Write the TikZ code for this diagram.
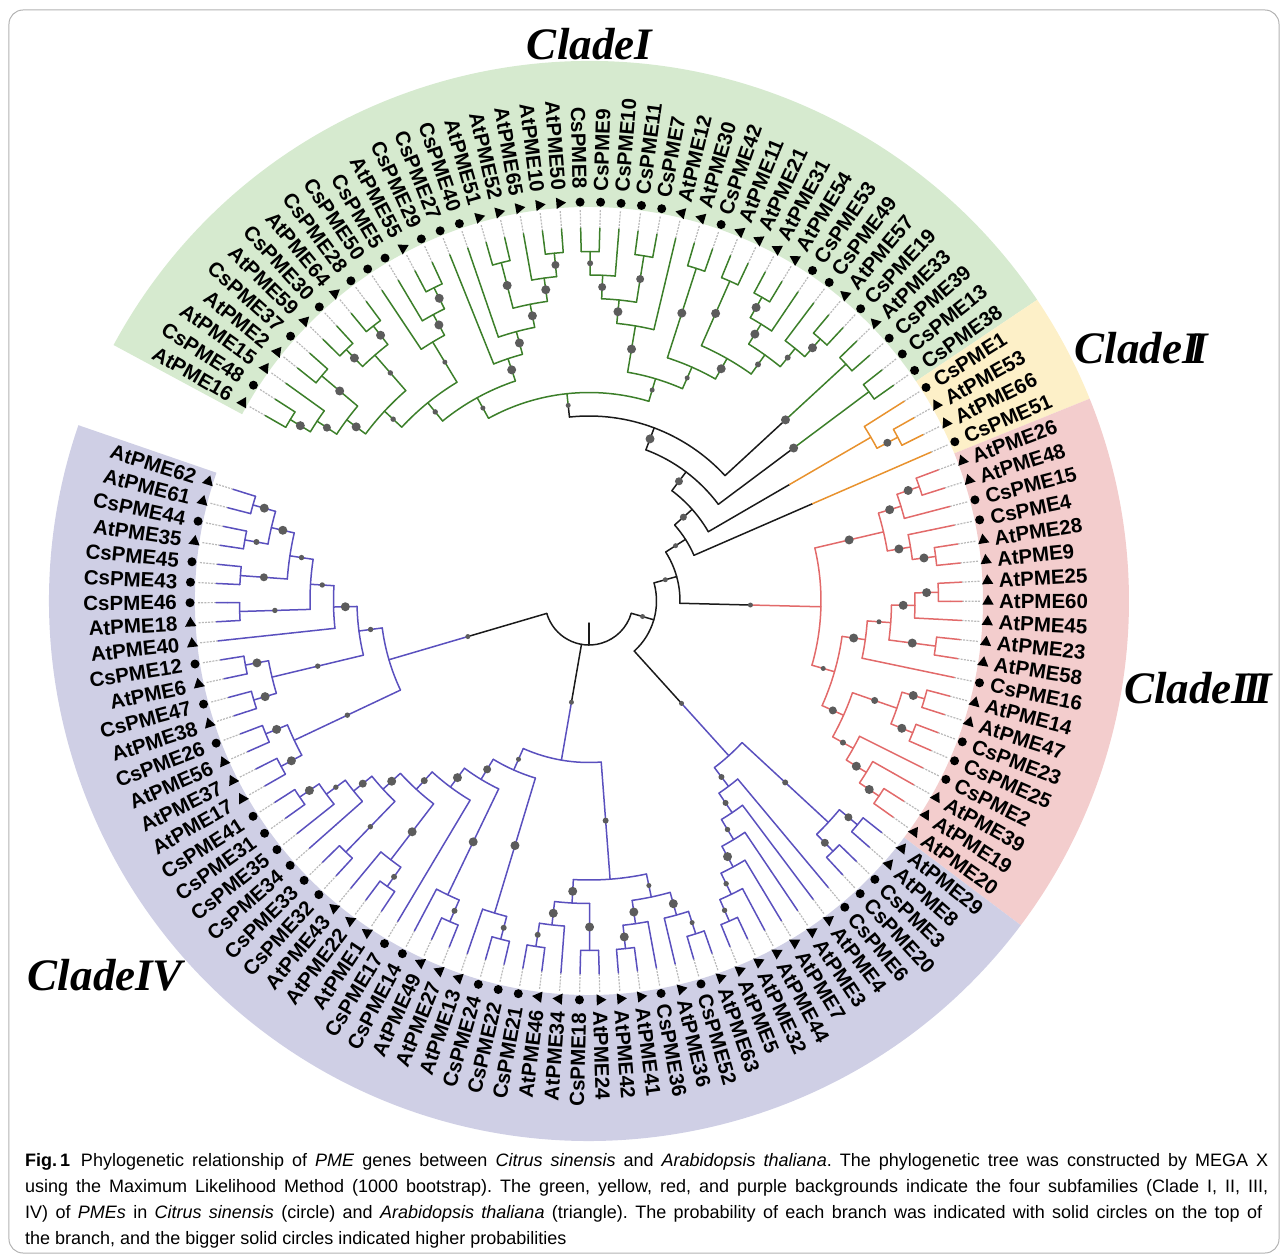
\documentclass[tikz,border=0pt]{standalone}
\usepackage{fontspec}
\setmainfont{Liberation Sans}
\newfontfamily\cladefont{Liberation Serif}
\usetikzlibrary{shapes.geometric}

\definecolor{clI}{HTML}{3C7F2A}
\definecolor{clII}{HTML}{E8922E}
\definecolor{clIII}{HTML}{E26A6A}
\definecolor{clIV}{HTML}{5A50BE}
\definecolor{clbk}{HTML}{1A1A1A}
\definecolor{bgI}{HTML}{D6EACF}
\definecolor{bgII}{HTML}{FDF0C8}
\definecolor{bgIII}{HTML}{F3CDCD}
\definecolor{bgIV}{HTML}{CFCFE5}
\definecolor{dotc}{HTML}{5C5C5C}

%% value store: \setv{ang}{name}{..}, \getv{ang}{name}
\newcommand\getv[2]{\csname #1@#2\endcsname}
\newcommand\setv[3]{\expandafter\xdef\csname #1@#2\endcsname{#3}}
\def\firstof#1#2\relax{#1}
\def\Rleaf{373}
\def\Rstep{23.5}

%% stem from parent #1 (radius #3) out to child #2, with its dot
\newcommand\drawstem[3]{%
  \edef\stA{\getv{ang}{#2}}%
  \pgfmathsetmacro\stR{\Rleaf-\Rstep*\getv{h}{#2}}%
  \pgfmathsetmacro\stM{(#3+\stR)/2}%
  \edef\stP{\getv{col}{#1}}\edef\stC{\getv{col}{#2}}\edef\stD{\getv{ds}{#2}}%
  \draw[branch,color=\stP] (\stA:#3) -- (\stA:\stM);
  \draw[branch,color=\stC] (\stA:\stM) -- (\stA:\stR);
  \ifdim\stD pt>0pt \fill[dotc] (\stA:\stM) circle[radius=\stD];\fi
}

\begin{document}
\frenchspacing
\begin{tikzpicture}[x=1pt,y=1pt,
  branch/.style={line width=1.5pt,line cap=round,line join=round},
  leafext/.style={gray!55,line width=1.2pt,dash pattern=on 2pt off 1.2pt},
  mktri/.style={regular polygon,regular polygon sides=3,fill=black,draw=none,inner sep=0pt,minimum size=13pt},
  mkcir/.style={circle,fill=black,draw=none,inner sep=0pt,minimum size=9pt},
  leaflab/.style={inner sep=0pt,font=\fontsize{20.5}{20.5}\selectfont\bfseries},
  cladelab/.style={anchor=base,inner sep=0pt,font=\cladefont\fontsize{45}{45}\selectfont\bfseries\itshape},
  caplab/.style={anchor=base west,inner sep=0pt,font=\fontsize{18}{21}\selectfont}]

\useasboundingbox (-589,-658) rectangle (696,601);
%% frame
\draw[gray!60,line width=1pt,rounded corners=14pt] (-580,591) rectangle (690,-652);

%% clade backgrounds
\foreach \ca/\cb/\cl in {33.9/151.7/bgI,22/33.9/bgII,-36.9/22/bgIII,-199/-36.9/bgIV}
  \fill[fill=\cl] (\ca:394) arc[start angle=\ca,end angle=\cb,radius=394]
    -- (\cb:540) arc[start angle=\cb,end angle=\ca,radius=540] -- cycle;

%% leaves, markers and labels
\foreach \nm [count=\i from 0] in {AtPME16,CsPME48,AtPME15,AtPME2,CsPME37,AtPME59,CsPME30,AtPME64,
  CsPME28,CsPME50,CsPME5,AtPME55,CsPME29,CsPME27,CsPME40,AtPME51,AtPME52,AtPME65,AtPME10,AtPME50,
  CsPME8,CsPME9,CsPME10,CsPME11,CsPME7,AtPME12,AtPME30,CsPME42,AtPME11,AtPME21,AtPME31,AtPME54,
  CsPME53,CsPME49,AtPME57,CsPME19,AtPME33,CsPME39,CsPME13,CsPME38,
  CsPME1,AtPME53,AtPME66,CsPME51,
  AtPME26,AtPME48,CsPME15,CsPME4,AtPME28,AtPME9,AtPME25,AtPME60,AtPME45,AtPME23,AtPME58,CsPME16,
  AtPME14,AtPME47,CsPME23,CsPME25,CsPME2,AtPME39,AtPME19,AtPME20,
  AtPME29,AtPME8,CsPME3,CsPME20,CsPME6,AtPME4,AtPME3,AtPME7,AtPME44,AtPME32,AtPME5,AtPME63,
  CsPME52,AtPME36,CsPME36,AtPME41,AtPME42,AtPME24,CsPME18,AtPME34,AtPME46,CsPME21,CsPME22,CsPME24,
  AtPME13,AtPME27,AtPME49,CsPME14,CsPME17,AtPME1,AtPME22,AtPME43,CsPME32,CsPME33,CsPME34,CsPME35,
  CsPME31,CsPME41,AtPME17,AtPME37,AtPME56,CsPME26,AtPME38,CsPME47,AtPME6,CsPME12,AtPME40,AtPME18,
  CsPME46,CsPME43,CsPME45,AtPME35,CsPME44,AtPME61,AtPME62}{
  \pgfmathsetmacro\lang{150.2-2.946*\i}
  \setv{ang}{\nm}{\lang}\setv{h}{\nm}{0}\setv{ds}{\nm}{0}
  \ifnum\i<40 \setv{col}{\nm}{clI}\else
   \ifnum\i<44 \setv{col}{\nm}{clII}\else
    \ifnum\i<64 \setv{col}{\nm}{clIII}\else \setv{col}{\nm}{clIV}\fi\fi\fi
  \draw[leafext] (\lang:\Rleaf) -- (\lang:391);
  \pgfmathparse{(\lang>-90)&&(\lang<90)?1:0}
  \ifdim\pgfmathresult pt>0.5pt \edef\lrot{\lang}\def\lanc{west}\def\lrad{410}%
  \else \pgfmathsetmacro\lrot{\lang+180}\def\lanc{east}\def\lrad{412}\fi
  \if A\expandafter\firstof\nm\relax
    \node[mktri,rotate=\lrot] (mk\i) at (\lang:399) {};
  \else
    \node[mkcir] (mk\i) at (\lang:399) {};
  \fi
  \node[leaflab,anchor=\lanc,rotate=\lrot] (lb\i) at (\lang:\lrad) {\nm};
}

%% tree: node/child/child/colour/dot radius
\foreach \nd/\ca/\cb/\cl/\ds in {
  I1/AtPME16/CsPME48/clI/4.5,I2/I1/AtPME15/clI/4,I3/AtPME2/CsPME37/clI/4.5,I4/I2/I3/clI/4.5,
  I5/AtPME59/CsPME30/clI/4.5,I6/AtPME64/CsPME28/clI/4.5,I7/I5/I6/clI/2.7,I8/I4/I7/clI/2.7,
  I9/AtPME55/CsPME29/clI/4.5,I10/CsPME5/I9/clI/4.5,I11/CsPME50/I10/clI/2.5,I12/I8/I11/clI/2.7,
  I13/AtPME51/AtPME52/clI/4.5,I14/AtPME10/AtPME50/clI/4,I15/AtPME65/I14/clI/4.5,I16/I13/I15/clI/4.5,
  I17/CsPME40/I16/clI/4.5,I18/CsPME27/I17/clI/4.5,I19/I12/I18/clI/2.5,
  I20/CsPME8/CsPME9/clI/3,I21/I20/CsPME10/clI/4,I22/CsPME11/CsPME7/clI/4,I23/I21/I22/clI/4.5,
  I24/I23/AtPME12/clI/4.5,I25/AtPME30/CsPME42/clI/4.5,I26/AtPME11/AtPME21/clI/4.5,
  I27/AtPME31/AtPME54/clI/4.5,I28/I27/CsPME53/clI/4.5,I29/AtPME57/CsPME19/clI/4.5,
  I30/I29/CsPME49/clI/3,I31/I28/I30/clI/3,I32/I26/I31/clI/4.5,I33/I25/I32/clI/2.5,
  I34/I24/I33/clI/2.5,I35/I19/I34/clI/2.5,I36/AtPME33/CsPME39/clI/4.5,I37/I36/I35/clbk/4.5,
  I38/CsPME13/CsPME38/clI/4.5,I39/I38/I37/clbk/4,
  II1/AtPME53/AtPME66/clII/4,II2/CsPME1/II1/clII/0,
  B1/II2/I39/clbk/3.5,B2/CsPME51/B1/clbk/2.5,
  III1/AtPME26/AtPME48/clIII/4.5,III2/III1/CsPME15/clIII/4.5,III3/AtPME28/AtPME9/clIII/4.5,
  III4/CsPME4/III3/clIII/4.5,III5/III2/III4/clIII/4.5,III6/AtPME25/AtPME60/clIII/4.5,
  III7/III6/AtPME45/clIII/4.5,III8/AtPME23/AtPME58/clIII/4.5,III9/III7/III8/clIII/2.5,
  III10/III9/CsPME16/clIII/4.5,III11/AtPME14/AtPME47/clIII/4.5,III12/CsPME23/CsPME25/clIII/4.5,
  III13/III11/III12/clIII/3.5,III14/AtPME19/AtPME20/clIII/4.5,III15/AtPME39/III14/clIII/4.5,
  III16/CsPME2/III15/clIII/3,III17/III13/III16/clIII/4,III18/III10/III17/clIII/2.5,
  III19/III5/III18/clIII/2.5,
  IV1/AtPME32/AtPME5/clIV/2.7,IV2/AtPME44/IV1/clIV/2.7,IV3/AtPME7/IV2/clIV/4.5,
  IV4/AtPME3/IV3/clIV/2.7,IV5/AtPME4/IV4/clIV/3,IV6/CsPME6/IV5/clIV/3,
  IV7/AtPME29/AtPME8/clIV/4,IV8/CsPME3/CsPME20/clIV/4,IV9/IV7/IV8/clIV/3,IV10/IV6/IV9/clIV/2.5,
  B3/III19/B2/clbk/2.5,B4/B3/IV10/clbk/2.5,
  IV11/CsPME52/AtPME63/clIV/2.5,IV12/AtPME36/IV11/clIV/4.5,IV13/AtPME42/AtPME41/clIV/4.5,
  IV14/IV13/CsPME36/clIV/4.5,IV15/IV14/IV12/clIV/2.5,IV16/CsPME21/AtPME46/clIV/3,
  IV17/IV16/AtPME34/clIV/4.5,IV18/CsPME18/AtPME24/clIV/4.5,IV19/IV17/IV18/clIV/4.5,
  IV20/IV19/IV15/clIV/3,IV21/CsPME22/CsPME24/clIV/3,IV22/IV21/AtPME13/clIV/4.5,
  IV23/AtPME27/AtPME49/clIV/3,IV24/IV23/CsPME14/clIV/4.5,IV25/AtPME1/AtPME22/clIV/3,
  IV26/IV25/AtPME43/clIV/4.5,IV27/CsPME32/CsPME33/clIV/2.7,IV28/CsPME31/CsPME41/clIV/4.5,
  IV29/IV28/CsPME35/clIV/2.7,IV30/IV29/CsPME34/clIV/4,IV31/IV30/IV27/clIV/4.5,
  IV32/IV31/IV26/clIV/3.5,IV33/IV32/CsPME17/clIV/4.5,IV34/IV33/IV24/clIV/4,
  IV35/IV34/IV22/clIV/2.5,IV36/IV35/IV20/clIV/2.5,
  IV37/AtPME62/AtPME61/clIV/4.5,IV38/CsPME44/AtPME35/clIV/3,IV39/IV37/IV38/clIV/4.5,
  IV40/CsPME45/CsPME43/clIV/4,IV41/IV39/IV40/clIV/2.7,IV42/CsPME46/AtPME18/clIV/2.7,
  IV43/IV41/IV42/clIV/2.7,IV44/IV43/AtPME40/clIV/4.5,IV45/AtPME6/CsPME12/clIV/4.5,
  IV46/AtPME38/CsPME47/clIV/4.5,IV47/IV45/IV46/clIV/2.7,IV48/IV44/IV47/clIV/2.7,
  IV49/CsPME26/AtPME56/clIV/4.5,IV50/AtPME37/AtPME17/clIV/4.5,IV51/IV49/IV50/clIV/2.7,
  IV52/IV48/IV51/clIV/2.5}{
  \edef\hA{\getv{h}{\ca}}\edef\hB{\getv{h}{\cb}}
  \pgfmathsetmacro\nH{max(\hA,\hB)+1}
  \pgfmathsetmacro\nR{\Rleaf-\Rstep*\nH}
  \edef\nA{\getv{ang}{\ca}}\edef\nB{\getv{ang}{\cb}}
  \pgfmathsetmacro\nM{(\nA+\nB)/2}
  \setv{h}{\nd}{\nH}\setv{ang}{\nd}{\nM}\setv{col}{\nd}{\cl}\setv{ds}{\nd}{\ds}
  \draw[branch,color=\cl] (\nA:\nR) arc[start angle=\nA,end angle=\nB,radius=\nR];
  \coordinate (\nd) at (\nM:\nR);
  \drawstem{\nd}{\ca}{\nR}
  \drawstem{\nd}{\cb}{\nR}
}

%% root
\pgfmathsetmacro\rroot{\Rleaf-\Rstep*14}
\setv{col}{root}{clbk}
\edef\rL{\getv{ang}{IV52}}\edef\rA{\getv{ang}{B4}}
\draw[branch,color=clbk] (\rL:\rroot) arc[start angle=\rL,end angle=\rA,radius=\rroot];
\draw[branch,color=clbk] (-90:22) -- (-90:\rroot);
\coordinate (root) at (-90:\rroot);
\drawstem{root}{IV52}{\rroot}
\drawstem{root}{IV36}{\rroot}
\drawstem{root}{B4}{\rroot}

%% clade names
\node[cladelab] (cI) at (0.5,541) {CladeI};
\node[cladelab] (cII) at (552.5,238) {CladeI\kern-.2em I};
\node[cladelab] (cIII) at (609,-102) {CladeI\kern-.14em I\kern-.14em I};
\node[cladelab] (cIV) at (-483.5,-389) {CladeIV};

%% caption
\node[caplab] (cap1) at (-564,-565) {\makebox[1243pt][s]{\textbf{Fig.\,1}\hspace{0.6em}Phylogenetic relationship of \textit{PME} genes between \textit{Citrus sinensis} and \textit{Arabidopsis thaliana}. The phylogenetic tree was constructed by MEGA X}};
\node[caplab] (cap2) at (-564,-591) {\makebox[1243pt][s]{using the Maximum Likelihood Method (1000 bootstrap). The green, yellow, red, and purple backgrounds indicate the four subfamilies (Clade I, II, III,}};
\node[caplab] (cap3) at (-564,-617) {\makebox[1237pt][s]{IV) of \textit{PMEs} in \textit{Citrus sinensis} (circle) and \textit{Arabidopsis thaliana} (triangle). The probability of each branch was indicated with solid circles on the top of}};
\node[caplab] (cap4) at (-564,-643) {the branch, and the bigger solid circles indicated higher probabilities};
\end{tikzpicture}
\end{document}
